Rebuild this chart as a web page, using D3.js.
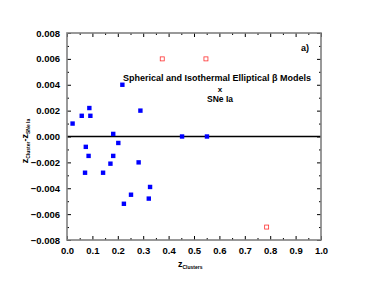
<!DOCTYPE html>
<html>
<head>
<meta charset="utf-8">
<script src="https://cdn.jsdelivr.net/npm/d3@7"></script>
<style>
body { margin: 0; background: #fff; }
text { font-family: "Liberation Sans", Arial, sans-serif; }
</style>
</head>
<body>
<svg id="chart" width="374" height="289"></svg>
<script>
// blue filled squares: spherical / elliptical beta model clusters
var cluster_z = [0.022, 0.058, 0.088, 0.092, 0.074, 0.085, 0.071, 0.142, 0.182, 0.202, 0.182, 0.171, 0.218, 0.289, 0.282, 0.327, 0.252, 0.322, 0.224, 0.453, 0.551];
var cluster_dz = [0.0010, 0.0016, 0.0022, 0.0016, -0.0008, -0.0015, -0.0028, -0.0028, 0.0002, -0.0005, -0.0015, -0.0021, 0.0040, 0.0020, -0.0020, -0.0039, -0.0045, -0.0048, -0.0052, 0.0000, 0.0000];

// red open squares
var outlier_z = [0.375, 0.547, 0.786];
var outlier_dz = [0.006, 0.006, -0.007];

var x_ticks = [0.0, 0.1, 0.2, 0.3, 0.4, 0.5, 0.6, 0.7, 0.8, 0.9, 1.0];
var y_ticks = [-0.008, -0.006, -0.004, -0.002, 0.000, 0.002, 0.004, 0.006, 0.008];

var svg = d3.select("#chart");
var left = 67, right = 321, top_ = 33, bottom = 240;

var x = d3.scaleLinear().domain([0, 1]).range([left, right]);
var y = d3.scaleLinear().domain([-0.008, 0.008]).range([bottom, top_]);

var axisColor = "#808080";

// zero line
svg.append("line")
    .attr("x1", left).attr("x2", right)
    .attr("y1", y(0)).attr("y2", y(0))
    .attr("stroke", "#000").attr("stroke-width", 1.3);

// minor ticks
var x_minor = d3.range(0.05, 1, 0.1);
var y_minor = d3.range(-0.007, 0.008, 0.002);

function drawAxis(g, axis) {
    g.call(axis);
    g.select(".domain").remove();
    g.selectAll(".tick line").attr("stroke", "#000").attr("stroke-width", 1);
}

// bottom
var gb = svg.append("g").attr("transform", "translate(0," + bottom + ")");
drawAxis(gb, d3.axisBottom(x).tickValues(x_ticks).tickSizeInner(-4).tickSizeOuter(0).tickPadding(7).tickFormat(d3.format(".1f")));
svg.append("g").attr("transform", "translate(0," + bottom + ")")
    .call(function(g){ drawAxis(g, d3.axisBottom(x).tickValues(x_minor).tickSizeInner(-2).tickSizeOuter(0).tickFormat("")); });

// top
svg.append("g").attr("transform", "translate(0," + top_ + ")")
    .call(function(g){ drawAxis(g, d3.axisTop(x).tickValues(x_ticks).tickSizeInner(-4).tickSizeOuter(0).tickFormat("")); });
svg.append("g").attr("transform", "translate(0," + top_ + ")")
    .call(function(g){ drawAxis(g, d3.axisTop(x).tickValues(x_minor).tickSizeInner(-2).tickSizeOuter(0).tickFormat("")); });

// left
var gl = svg.append("g").attr("transform", "translate(" + left + ",0)");
drawAxis(gl, d3.axisLeft(y).tickValues(y_ticks).tickSizeInner(-4).tickSizeOuter(0).tickPadding(7).tickFormat(d3.format(".3f")));
svg.append("g").attr("transform", "translate(" + left + ",0)")
    .call(function(g){ drawAxis(g, d3.axisLeft(y).tickValues(y_minor).tickSizeInner(-2).tickSizeOuter(0).tickFormat("")); });

// right
svg.append("g").attr("transform", "translate(" + right + ",0)")
    .call(function(g){ drawAxis(g, d3.axisRight(y).tickValues(y_ticks).tickSizeInner(-4).tickSizeOuter(0).tickFormat("")); });
svg.append("g").attr("transform", "translate(" + right + ",0)")
    .call(function(g){ drawAxis(g, d3.axisRight(y).tickValues(y_minor).tickSizeInner(-2).tickSizeOuter(0).tickFormat("")); });

svg.selectAll(".tick text")
    .attr("font-family", "Liberation Sans, Arial, sans-serif")
    .attr("font-size", 9.5).attr("font-weight", "bold").attr("fill", "#000");

// frame
svg.append("rect")
    .attr("x", left).attr("y", top_)
    .attr("width", right - left).attr("height", bottom - top_)
    .attr("fill", "none").attr("stroke", axisColor).attr("stroke-width", 1.6);

// blue points
svg.selectAll(".clusterPoints")
    .data(cluster_z)
    .enter().append("rect")
    .attr("class", "clusterPoints")
    .attr("x", function(d) { return x(d) - 2.2; })
    .attr("y", function(d, i) { return y(cluster_dz[i]) - 2.2; })
    .attr("width", 4.4).attr("height", 4.4)
    .attr("fill", "#0000ff");

// red open points
svg.selectAll(".outlierPoints")
    .data(outlier_z)
    .enter().append("rect")
    .attr("class", "outlierPoints")
    .attr("x", function(d) { return x(d) - 2; })
    .attr("y", function(d, i) { return y(outlier_dz[i]) - 2; })
    .attr("width", 4).attr("height", 4)
    .attr("fill", "none").attr("stroke", "#ff3030").attr("stroke-width", 0.8);

// annotations
svg.append("text").attr("x", 305).attr("y", 51)
    .attr("font-size", 9).attr("font-weight", "bold").attr("text-anchor", "middle").text("a)");

svg.append("text").attr("x", 217).attr("y", 81)
    .attr("font-size", 9).attr("font-weight", "bold").attr("text-anchor", "middle")
    .text("Spherical and  Isothermal Elliptical β Models");
svg.append("text").attr("x", 220).attr("y", 92)
    .attr("font-size", 8).attr("font-weight", "bold").attr("text-anchor", "middle").text("x");
svg.append("text").attr("x", 220).attr("y", 102)
    .attr("font-size", 8.5).attr("font-weight", "bold").attr("text-anchor", "middle").text("SNe Ia");

// axis titles
var xl = svg.append("text").attr("x", 178).attr("y", 267)
    .attr("font-weight", "bold");
xl.append("tspan").attr("font-size", 9).text("z");
xl.append("tspan").attr("font-size", 5).attr("dy", 2).text("Clusters");

var yl = svg.append("text")
    .attr("transform", "translate(28,141) rotate(-90)")
    .attr("text-anchor", "middle").attr("font-weight", "bold");
yl.append("tspan").attr("font-size", 9).text("z");
yl.append("tspan").attr("font-size", 5).attr("dy", 2).text("Cluster");
yl.append("tspan").attr("font-size", 9).attr("dy", -2).text("-z");
yl.append("tspan").attr("font-size", 5).attr("dy", 2).text("SNe Ia");
</script>
</body>
</html>
